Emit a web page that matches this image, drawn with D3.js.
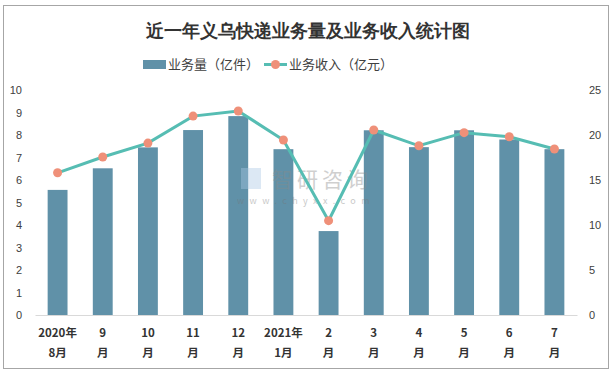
<!DOCTYPE html>
<html>
<head>
<meta charset="utf-8">
<script src="https://cdn.jsdelivr.net/npm/d3@7"></script>
<style>
  body { margin: 0; background: #fff; }
  text { font-family: "Noto Sans CJK SC", "Microsoft YaHei", sans-serif; }
</style>
</head>
<body>
<div id="chart"></div>
<script>
var months = ["2020年|8月", "9|月", "10|月", "11|月", "12|月", "2021年|1月",
              "2|月", "3|月", "4|月", "5|月", "6|月", "7|月"];
var volume = [5.56, 6.52, 7.45, 8.22, 8.84, 7.37, 3.73, 8.21, 7.46, 8.21, 7.8, 7.37];
var revenue = [15.8, 17.56, 19.1, 22.1, 22.67, 19.44, 10.48, 20.56, 18.8, 20.26, 19.8, 18.44];
var leftTicks = [0, 1, 2, 3, 4, 5, 6, 7, 8, 9, 10];
var rightTicks = [0, 5, 10, 15, 20, 25];

var svgWidth = 616;
var svgHeight = 374;
var margin = { top: 90, right: 39, bottom: 59, left: 35 };
var width = svgWidth - margin.left - margin.right;
var height = svgHeight - margin.top - margin.bottom;

var svg = d3.select("#chart")
    .append("svg")
    .attr("width", svgWidth)
    .attr("height", svgHeight);

// frame
svg.append("rect")
    .attr("x", 3.5).attr("y", 5.5)
    .attr("width", 605).attr("height", 363)
    .attr("fill", "#fff")
    .attr("stroke", "#a6a6a6");

svg.append("text")
    .attr("x", 308).attr("y", 37)
    .attr("text-anchor", "middle")
    .style("font-family", "serif")
    .style("font-size", "18px")
    .style("font-weight", "bold")
    .attr("fill", "#333")
    .text("近一年义乌快递业务量及业务收入统计图");

// legend
var legend = svg.append("g").style("font-size", "13px").attr("fill", "#404040");
legend.append("rect").attr("x", 143).attr("y", 60).attr("width", 23).attr("height", 9).attr("fill", "#6091a8");
legend.append("text").attr("x", 168).attr("y", 69).text("业务量（亿件）");
legend.append("line").attr("x1", 264).attr("x2", 287).attr("y1", 64.5).attr("y2", 64.5)
    .attr("stroke", "#56bdb3").attr("stroke-width", 3);
legend.append("circle").attr("cx", 275.5).attr("cy", 64.5).attr("r", 4.5).attr("fill", "#ef9079");
legend.append("text").attr("x", 289).attr("y", 69).text("业务收入（亿元）");

var chartGroup = svg.append("g")
    .attr("transform", `translate(${margin.left}, ${margin.top})`);

var xScale = d3.scaleBand()
    .domain(months)
    .range([0, width])
    .paddingInner(0.56)
    .paddingOuter(0.28);

var yLeft = d3.scaleLinear().domain([0, 10]).range([height, 0]);
var yRight = d3.scaleLinear().domain([0, 25]).range([height, 0]);

chartGroup.selectAll(".bar")
    .data(volume)
    .enter()
    .append("rect")
    .attr("class", "bar")
    .attr("x", (d, i) => xScale(months[i]))
    .attr("width", xScale.bandwidth())
    .attr("y", d => yLeft(d))
    .attr("height", d => height - yLeft(d))
    .attr("fill", "#6091a8");

// watermark, sits over the bars
var wm = chartGroup.append("g").attr("opacity", 0.4);
wm.append("rect").attr("x", 206).attr("y", 78).attr("width", 20).attr("height", 21).attr("fill", "#a9c8e4");
wm.append("text").attr("x", 237).attr("y", 97).style("font-size", "21px").attr("fill", "#8a8a8a")
    .style("letter-spacing", "4px").text("智研咨询");
wm.append("text").attr("x", 202).attr("y", 114).style("font-size", "9px").attr("fill", "#777")
    .style("letter-spacing", "5.4px").text("www.chyxx.com");

var leftAxis = d3.axisLeft(yLeft).tickValues(leftTicks).tickSize(0).tickPadding(13);
var rightAxis = d3.axisRight(yRight).tickValues(rightTicks).tickSize(0).tickPadding(12);

var gl = chartGroup.append("g").call(leftAxis);
var gr = chartGroup.append("g").attr("transform", `translate(${width}, 0)`).call(rightAxis);
[gl, gr].forEach(function(g) {
    g.select(".domain").remove();
    g.selectAll("text").style("font-size", "11px").attr("fill", "#404040")
        .style("font-family", "Arial, 'Liberation Sans', sans-serif");
});

var bottomAxis = d3.axisBottom(xScale).tickSize(0).tickFormat("");
var gx = chartGroup.append("g").attr("transform", `translate(0, ${height})`).call(bottomAxis);
gx.select(".domain").attr("stroke", "#d9d9d9");

chartGroup.selectAll(".xlab")
    .data(months)
    .enter()
    .append("text")
    .attr("class", "xlab")
    .attr("text-anchor", "middle")
    .attr("x", d => xScale(d) + xScale.bandwidth() / 2)
    .attr("y", height + 22)
    .style("font-size", "11.5px")
    .style("font-weight", "bold")
    .attr("fill", "#333")
    .each(function(d) {
        var parts = d.split("|");
        var t = d3.select(this);
        t.append("tspan").attr("x", t.attr("x")).attr("dy", 0).text(parts[0]);
        t.append("tspan").attr("x", t.attr("x")).attr("dy", 20).text(parts[1]);
    });

var line = d3.line()
    .x((d, i) => xScale(months[i]) + xScale.bandwidth() / 2)
    .y(d => yRight(d));

chartGroup.append("path")
    .datum(revenue)
    .attr("d", line)
    .attr("fill", "none")
    .attr("stroke", "#56bdb3")
    .attr("stroke-width", 3);

chartGroup.selectAll(".dot")
    .data(revenue)
    .enter()
    .append("circle")
    .attr("class", "dot")
    .attr("cx", (d, i) => xScale(months[i]) + xScale.bandwidth() / 2)
    .attr("cy", d => yRight(d))
    .attr("r", 4.5)
    .attr("fill", "#ef9079");
</script>
</body>
</html>
